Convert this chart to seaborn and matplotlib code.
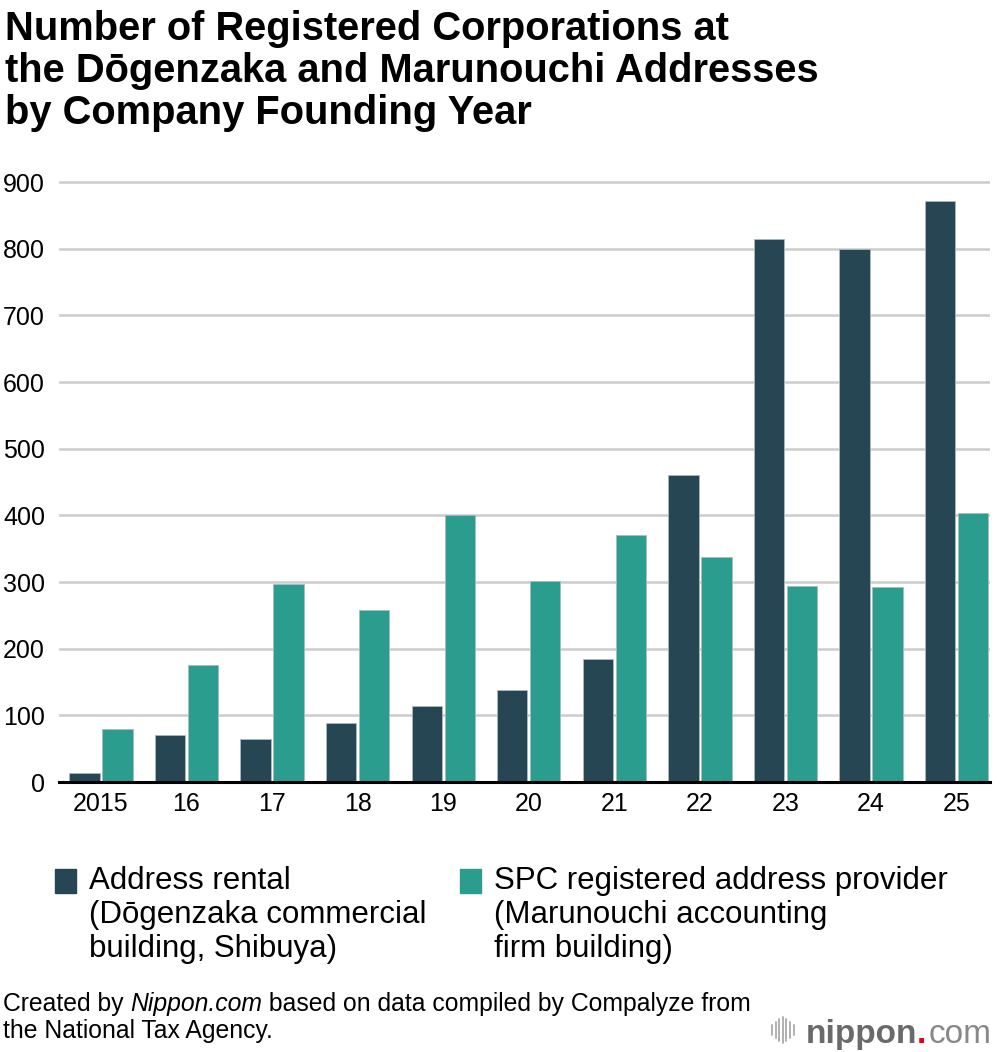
import pandas as pd
import matplotlib
matplotlib.use("Agg")
import matplotlib.pyplot as plt
import seaborn as sns
from matplotlib.patches import Rectangle
from matplotlib.lines import Line2D

# Données
years = ["2015", "16", "17", "18", "19", "20", "21", "22", "23", "24", "25"]
dogenzaka = [14, 70, 65, 88, 114, 138, 184, 460, 814, 799, 872]
marunouchi = [80, 175, 297, 258, 401, 302, 371, 337, 294, 292, 404]
series_names = ["Address rental", "SPC registered address provider"]
legend_labels = [
    "Address rental\n(D\u014dgenzaka commercial\nbuilding, Shibuya)",
    "SPC registered address provider\n(Marunouchi accounting\nfirm building)",
]
colors = ["#264653", "#2a9d8f"]
yticks = list(range(0, 1000, 100))

df = pd.DataFrame({
    "year": years * 2,
    "count": dogenzaka + marunouchi,
    "series": [series_names[0]] * len(years) + [series_names[1]] * len(years),
})

sns.set_style("white")
plt.rcParams["font.family"] = ["Liberation Sans", "DejaVu Sans"]
plt.rcParams["text.color"] = "black"
plt.rcParams["xtick.color"] = "black"
plt.rcParams["ytick.color"] = "black"

fig = plt.figure(figsize=(10, 10.52), dpi=100)
ax = fig.add_axes([0.059, (1052 - 782) / 1052, 0.931, (782 - 180) / 1052])

sns.barplot(data=df, x="year", y="count", hue="series", order=years,
            hue_order=series_names, palette=colors, saturation=1,
            width=0.77, gap=0.08, edgecolor="#a9bcc0", linewidth=0.6,
            legend=False, ax=ax, zorder=3)

ax.set_xlim(-0.49, 10.39)
ax.set_ylim(0, 903)
ax.set_yticks(yticks)
ax.set_yticklabels([str(t) for t in yticks])
ax.yaxis.grid(True, color="#cccccc", linewidth=1.8, zorder=0)
ax.set_axisbelow(True)
for s in ["top", "right", "left"]:
    ax.spines[s].set_visible(False)
ax.spines["bottom"].set_color("black")
ax.spines["bottom"].set_linewidth(2.2)
ax.spines["bottom"].set_zorder(5)
ax.tick_params(axis="both", length=0, labelsize=18)
ax.tick_params(axis="y", pad=10)
ax.tick_params(axis="x", pad=7)
ax.set_xlabel("")
ax.set_ylabel("")

# Titre
fig.text(0.005, 1 - 10 / 1052, "Number of Registered Corporations at\n"
         "the D\u014dgenzaka and Marunouchi Addresses\nby Company Founding Year",
         fontsize=28.7, fontweight="bold", va="top", ha="left", linespacing=1.14)

# Légende manuelle
for i, (lab, col) in enumerate(zip(legend_labels, colors)):
    x0 = [55, 460][i]
    fig.patches.append(Rectangle((x0 / 1000, 1 - 893 / 1052), 21 / 1000, 24 / 1052,
                                 transform=fig.transFigure, color=col))
    fig.text((x0 + 34) / 1000, 1 - 866 / 1052, lab, fontsize=22.5, va="top",
             ha="left", linespacing=1.17)

# Source (morceaux mis bout à bout, le nom en italique)
renderer = fig.canvas.get_renderer()
y_src = 1 - 1011 / 1052
x_cur = 0.003
for piece, style in [("Created by ", "normal"), ("Nippon.com", "italic"),
                     (" based on data compiled by Compalyze from", "normal")]:
    t = fig.text(x_cur, y_src, piece, fontsize=17.8, style=style,
                 va="baseline", ha="left")
    bb = t.get_window_extent(renderer=renderer)
    x_cur += bb.width / fig.bbox.width
fig.text(0.003, 1 - 1038 / 1052, "the National Tax Agency.", fontsize=17.8,
         va="baseline", ha="left")

# Logo
for k, h in enumerate([10, 16, 22, 26, 22, 16, 10]):
    xx = (772 + k * 3.6) / 1000
    yc = 1 - 1030 / 1052
    fig.lines.append(Line2D([xx, xx], [yc - h / 2 / 1052, yc + h / 2 / 1052],
                            transform=fig.transFigure, color="#b0b0b0", linewidth=1.4))
fig.text(0.806, 1 - 1043 / 1052, "nippon", fontsize=24, fontweight="bold",
         color="#6a6a6a", va="baseline", ha="left")
fig.text(0.917, 1 - 1043 / 1052, ".", fontsize=24, fontweight="bold",
         color="#e60012", va="baseline", ha="left")
fig.text(0.929, 1 - 1043 / 1052, "com", fontsize=24, color="#888888",
         va="baseline", ha="left")

plt.savefig("out.png", dpi=100)
